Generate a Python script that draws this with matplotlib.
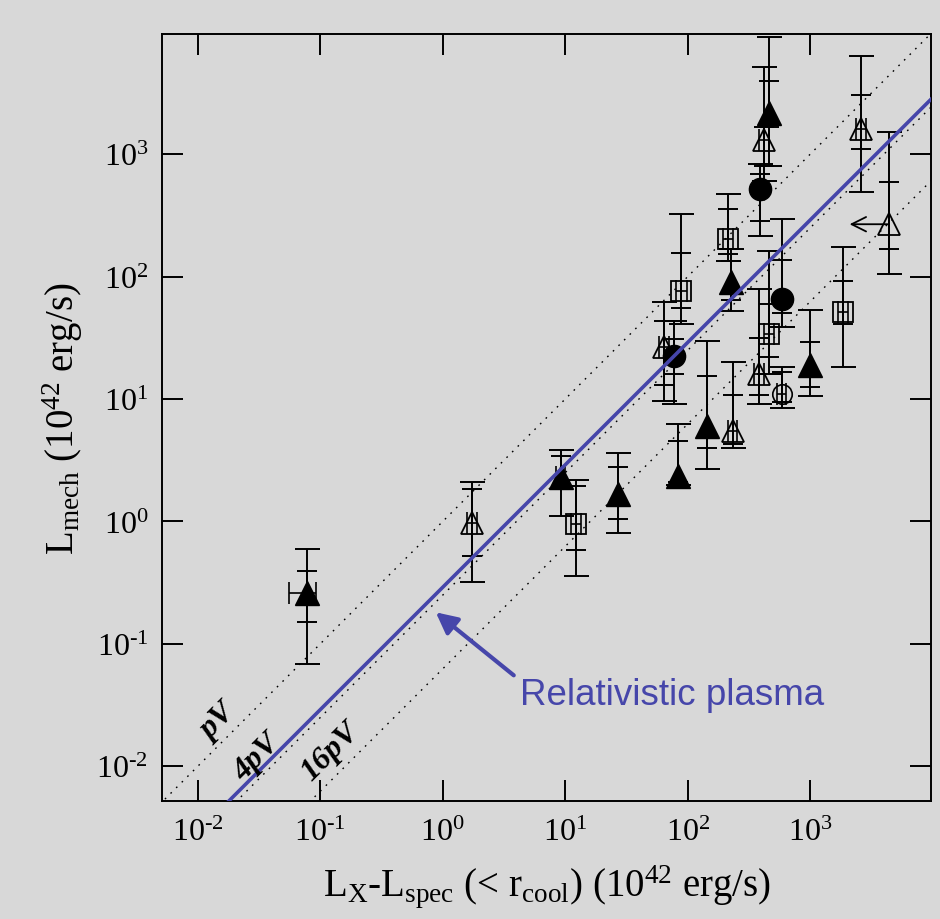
import matplotlib
matplotlib.use('Agg')
import matplotlib.pyplot as plt
from matplotlib.ticker import FixedLocator, FuncFormatter, NullLocator
import numpy as np

# ---- data ----
x_val  = [0.078, 1.73, 9.2, 12.2, 26.8, 83, 143, 233, 64, 78, 89, 212, 224, 387, 417, 458,
          585, 458, 380, 585, 991, 1841, 2582, 4375]
y_val  = [0.26, 0.98, 2.3, 0.95, 1.67, 2.35, 6.0, 5.46, 26.5, 22.4, 76, 202, 90, 518, 1300, 2163,
          65.3, 33.8, 16.0, 10.9, 18.9, 51, 1600, 268]
kind   = ['tri_f', 'tri_o', 'tri_f', 'sq_o', 'tri_f', 'tri_f', 'tri_f', 'tri_o', 'tri_o', 'circ_f',
          'sq_o', 'sq_o', 'tri_f', 'circ_f', 'tri_o', 'tri_f', 'circ_f', 'sq_o', 'tri_o', 'circ_o',
          'tri_f', 'sq_o', 'tri_o', 'tri_o']
y_out_lo = [0.068, 0.32, 1.10, 0.36, 0.80, 2.0, 2.67, 3.96, 9.6, 9.06, 41, 134, 52, 214, 601, 798,
            38.6, 16, 9.06, 8.5, 10.5, 18.2, 490, 105]
y_out_hi = [0.59, 2.09, 3.8, 2.17, 3.6, 6.2, 29.7, 20, 62, 43, 324, 471, 167, 829, 5140, 9036,
            294, 161, 78.8, 18.2, 53, 174, 6320, 1513]
y_in_lo  = [0.15, 0.52, 1.9, 0.58, 1.05, 2.1, 4.0, 4.3, 13, 16, 55, 152, 65, 284, 798, 1663,
            50, 22, 10.7, 9.5, 12.5, 40.8, 1099, 168]
y_in_hi  = [0.39, 1.83, 3.4, 1.94, 2.8, 4.5, 15.4, 10.7, 43, 31, 155, 356, 134, 687, 1663, 3944,
            136, 60, 31.4, 16.5, 29, 91.6, 3033, 590]
x_lo     = [0.056, 1.58, 8.4, 11.1, 26.8, 83, 143, 213, 58, 78, 81, 193, 224, 387, 380, 458,
            585, 417, 346, 540, 991, 1680, 2350, 4375]
x_hi     = [0.092, 1.89, 10.0, 13.4, 26.8, 83, 143, 255, 70, 78, 98, 233, 224, 387, 458, 458,
            585, 503, 418, 635, 991, 2020, 2840, 4375]
upper_limit_x = [False] * 23 + [True]
arrow_x_end = 2100

line_names = ['pV', '4pV', '16pV']
line_coef = [1.0, 0.25, 0.0625]
line_label_x = [0.0146, 0.0303, 0.122]
line_label_y = [0.0233, 0.01185, 0.01327]
blue_coef = 0.29
ann_text = 'Relativistic plasma'
ann_head = (0.877, 0.181)
ann_tail = (3.80, 0.0553)
ann_text_pos = (4.26, 0.0321)

# ---- style ----
bg = '#d8d8d8'
blue = '#4646aa'
plt.rcParams['font.family'] = ['Liberation Serif', 'DejaVu Serif']
plt.rcParams['mathtext.fontset'] = 'custom'
plt.rcParams['mathtext.rm'] = 'Liberation Serif'
plt.rcParams['mathtext.it'] = 'Liberation Serif:italic'
plt.rcParams['mathtext.bf'] = 'Liberation Serif:bold'

fig = plt.figure(figsize=(9.4, 9.2), dpi=100, facecolor=bg)
ax = fig.add_axes([162/940, 1-802/920, (931-162)/940, (802-35)/920])
ax.set_facecolor(bg)
ax.set_xscale('log')
ax.set_yscale('log')
ax.set_xlim(5.1e-3, 9.7e3)
ax.set_ylim(5.2e-3, 9.6e3)

# reference lines
xx = np.logspace(-3, 5, 50)
for c in line_coef:
    ax.plot(xx, c*xx, color='k', lw=1.0, ls=(0, (1.2, 4.5)), zorder=1)
ax.plot(xx, blue_coef*xx, color=blue, lw=2.6, zorder=4)

for name, lx, ly in zip(line_names, line_label_x, line_label_y):
    ax.text(lx, ly, name, rotation=45, rotation_mode='anchor', ha='center', va='center',
            fontsize=23, fontweight='bold', fontstyle='italic', zorder=5)

# error bars
x = np.array(x_val); y = np.array(y_val)
ax.errorbar(x, y, yerr=[y - np.array(y_out_lo), np.array(y_out_hi) - y], fmt='none',
            ecolor='k', elinewidth=1.4, capsize=9, capthick=1.4, zorder=2)
ax.errorbar(x, y, yerr=[y - np.array(y_in_lo), np.array(y_in_hi) - y], fmt='none',
            ecolor='k', elinewidth=1.4, capsize=7, capthick=1.4, zorder=2)
xl = np.array(x_lo); xh = np.array(x_hi)
has_x = (xh - xl) > 0
ax.errorbar(x[has_x], y[has_x], xerr=[x[has_x] - xl[has_x], xh[has_x] - x[has_x]], fmt='none',
            ecolor='k', elinewidth=1.2, capsize=8, capthick=1.2, zorder=2)

styles = {
    'tri_f': dict(marker='^', ms=17, mfc='k', mec='k'),
    'tri_o': dict(marker='^', ms=16, mfc='none', mec='k', mew=1.3),
    'sq_o': dict(marker='s', ms=14, mfc='none', mec='k', mew=1.3),
    'circ_f': dict(marker='o', ms=16, mfc='k', mec='k'),
    'circ_o': dict(marker='o', ms=14, mfc='none', mec='k', mew=1.2),
}
for xi, yi, k in zip(x_val, y_val, kind):
    ax.plot([xi], [yi], ls='none', zorder=3, **styles[k])

for xi, yi, ul in zip(x_val, y_val, upper_limit_x):
    if ul:
        ax.annotate('', xy=(arrow_x_end, yi), xytext=(xi, yi),
                    arrowprops=dict(arrowstyle='->', lw=1.3, color='k', mutation_scale=26,
                                    shrinkA=0, shrinkB=0), zorder=3)

# annotation
ax.annotate('', xy=ann_head, xytext=ann_tail,
            arrowprops=dict(arrowstyle='-|>', lw=3, color=blue, mutation_scale=32,
                            shrinkA=0, shrinkB=0), zorder=5)
ax.text(ann_text_pos[0], ann_text_pos[1], ann_text, color=blue, fontsize=26.5,
        family='Liberation Sans', ha='left', va='baseline', zorder=5)

# axes / ticks
decades = [1e-2, 1e-1, 1e0, 1e1, 1e2, 1e3]
fmt = FuncFormatter(lambda v, p: r'$10^{\text{%d}}$' % int(round(np.log10(v))))
for axis in (ax.xaxis, ax.yaxis):
    axis.set_major_locator(FixedLocator(decades))
    axis.set_minor_locator(NullLocator())
    axis.set_major_formatter(fmt)
ax.tick_params(which='major', direction='in', top=True, right=True, length=15, width=1.4,
               labelsize=23)
ax.tick_params(axis='x', pad=12)
ax.tick_params(axis='y', pad=10)
for s in ax.spines.values():
    s.set_linewidth(1.4)

ax.set_xlabel(r'L$_{\mathrm{X}}$-L$_{\mathrm{spec}}$ (< r$_{\mathrm{cool}}$) (10$^{42}$ erg/s)',
              fontsize=28, labelpad=11)
ax.set_ylabel(r'L$_{\mathrm{mech}}$ (10$^{42}$ erg/s)', fontsize=28, labelpad=8)

fig.savefig('out.png', dpi=100, facecolor=bg)
